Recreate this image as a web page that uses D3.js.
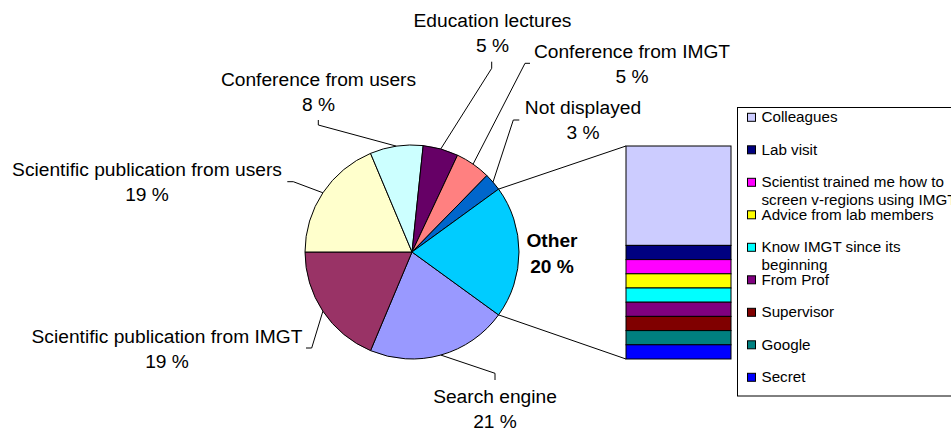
<!DOCTYPE html>
<html>
<head>
<meta charset="utf-8">
<script src="https://cdn.jsdelivr.net/npm/d3@7/dist/d3.min.js"></script>
<style>
  html, body { margin: 0; padding: 0; background: #fff; }
  svg { display: block; }
  text { font-family: "Liberation Sans", Arial, sans-serif; fill: #000; }
</style>
</head>
<body>
<svg id="chart" width="951" height="428"></svg>
<script>
// ---- data (counts of respondents) ----
const pieCategories = ["Search engine", "Scientific publication from IMGT", "Scientific publication from users",
  "Conference from users", "Education lectures", "Conference from IMGT", "Not displayed", "Other"];
const pieValues = [16, 14, 14, 6, 4, 4, 2, 15];
const pieColors = ["#9999FF", "#993366", "#FFFFCC", "#CCFFFF", "#660066", "#FF8080", "#0066CC", "#00CCFF"];

const otherCategories = ["Colleagues", "Lab visit", "Scientist trained me how to\nscreen v-regions using IMGT",
  "Advice from lab members", "Know IMGT since its\nbeginning", "From Prof", "Supervisor", "Google", "Secret"];
const otherValues = [7, 1, 1, 1, 1, 1, 1, 1, 1];
const otherColors = ["#CCCCFF", "#000080", "#FF00FF", "#FFFF00", "#00FFFF", "#800080", "#800000", "#008080", "#0000FF"];

// ---- layout ----
const cx = 412, cy = 252, R = 107;
const deg = Math.PI / 180;
// label layout: [centerX, baselineY, elbow points from the pie outwards]
const labelLayout = [
  { x: 495, y: 402.7, elbow: [[495, 373.3], [495, 380]] },
  { x: 167, y: 342.7, elbow: [[311.7, 348], [306, 348]] },
  { x: 147, y: 176, elbow: [[293.3, 181.7], [287.3, 181.7]] },
  { x: 318.5, y: 86, elbow: [[318.3, 125], [318.3, 120]] },
  { x: 492.5, y: 27.3, elbow: [[491.7, 68.3], [491.7, 61.7]] },
  { x: 632, y: 58.3, elbow: [[525, 63.3], [530, 63.3]] },
  { x: 583, y: 114.3, elbow: [[513.3, 120], [519.3, 120]] },
  { x: 552, y: 247.3, elbow: null, bold: true }
];

const svg = d3.select("#chart");
svg.append("rect").attr("width", 951).attr("height", 428).attr("fill", "#fff");

const total = d3.sum(pieValues);
const pie = d3.pie().sort(null).value(d => d).startAngle(126 * deg).endAngle(486 * deg);
const arcs = pie(pieValues);
const arc = d3.arc().innerRadius(0).outerRadius(R);

const g = svg.append("g").attr("transform", `translate(${cx},${cy})`);
g.selectAll("path.slice").data(arcs).enter().append("path")
  .attr("class", "slice")
  .attr("d", arc)
  .attr("fill", (d, i) => pieColors[i])
  .attr("stroke", "#000").attr("stroke-width", 1);

// ---- secondary bar ----
const otherArc = arcs[arcs.length - 1];
const barX0 = 626, barX1 = 731;
const y = d3.scaleLinear().domain([0, d3.sum(otherValues)]).range([146, 359]);
const cum = d3.cumsum(otherValues);
const barG = svg.append("g");
barG.selectAll("rect").data(otherValues).enter().append("rect")
  .attr("x", barX0).attr("width", barX1 - barX0)
  .attr("y", (d, i) => y(cum[i] - d))
  .attr("height", d => y(d) - y(0))
  .attr("fill", (d, i) => otherColors[i])
  .attr("stroke", "#000").attr("stroke-width", 1);

// connector lines
const pt = a => [cx + R * Math.sin(a), cy - R * Math.cos(a)];
const pTop = pt(otherArc.startAngle), pBot = pt(otherArc.endAngle);
svg.append("line").attr("x1", pTop[0]).attr("y1", pTop[1]).attr("x2", barX0).attr("y2", y(0))
  .attr("stroke", "#000").attr("stroke-width", 1);
svg.append("line").attr("x1", pBot[0]).attr("y1", pBot[1]).attr("x2", barX0).attr("y2", y(d3.sum(otherValues)))
  .attr("stroke", "#000").attr("stroke-width", 1);

// ---- labels & leader lines ----
arcs.forEach((a, i) => {
  const L = labelLayout[i];
  const pct = Math.round(100 * a.data / total) + " %";
  if (L.elbow) {
    const mid = (a.startAngle + a.endAngle) / 2;
    const p0 = pt(mid);
    svg.append("polyline")
      .attr("points", [p0].concat(L.elbow).map(p => p.join(",")).join(" "))
      .attr("fill", "none").attr("stroke", "#000").attr("stroke-width", 1);
  }
  const t = svg.append("text").attr("text-anchor", "middle")
    .attr("font-size", 19.2).attr("font-weight", L.bold ? "bold" : "normal");
  t.append("tspan").attr("x", L.x).attr("y", L.y).text(pieCategories[i]);
  t.append("tspan").attr("x", L.x).attr("y", L.y + (L.bold ? 26 : 24.8)).text(pct);
});

// ---- legend ----
const legG = svg.append("g");
legG.append("rect").attr("x", 737.5).attr("y", 107.5).attr("width", 230).attr("height", 288.5)
  .attr("fill", "#fff").attr("stroke", "#000").attr("stroke-width", 1);
otherCategories.forEach((name, i) => {
  const yc = 117.3 + i * 32.5;
  legG.append("rect").attr("x", 747.5).attr("y", yc - 4).attr("width", 8).attr("height", 8)
    .attr("fill", otherColors[i]).attr("stroke", "#000").attr("stroke-width", 1);
  const lines = name.split("\n");
  const t = legG.append("text").attr("font-size", 15.2);
  lines.forEach((ln, j) => {
    t.append("tspan").attr("x", 761.5).attr("y", yc + 4.8 + j * 18).text(ln);
  });
});
</script>
</body>
</html>
